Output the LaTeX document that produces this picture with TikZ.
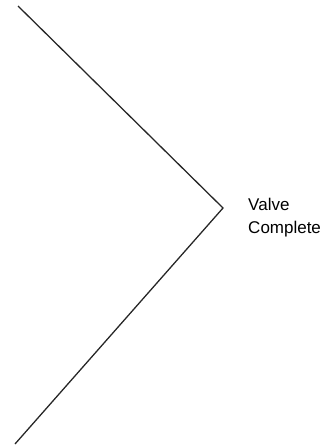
\documentclass[tikz,border=0pt]{standalone}
\usepackage{fontspec}
\setmainfont{Liberation Sans}
\usepackage{tikz}
\usetikzlibrary{positioning}
\tikzset{valveline/.style={line width=1.1pt,black!85}}

\begin{document}
\begin{tikzpicture}[x=0.03cm,y=-0.03cm]

      \useasboundingbox (0,0) rectangle (334,448);
      \coordinate (top) at (18,6);
      \coordinate (tip) at (223,208);
      \coordinate (bottom) at (15,444);
      \draw [valveline] (top) -- (tip) -- (bottom);
      \node [anchor=west,align=left,font=\fontsize{14.5}{19.5}\selectfont,inner sep=0pt] (valve) at (248,218) {Valve\\Complete};

    \end{tikzpicture}
\end{document}
